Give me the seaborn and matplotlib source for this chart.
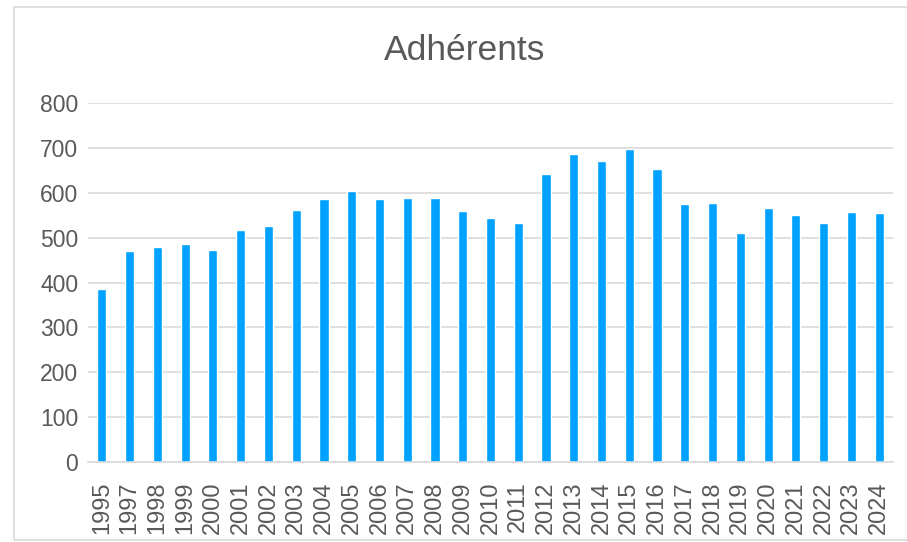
import matplotlib
matplotlib.use("Agg")
import matplotlib.pyplot as plt
import seaborn as sns
import pandas as pd
from matplotlib.patches import Rectangle

# Données
annees = ["1995", "1997", "1998", "1999", "2000", "2001", "2002", "2003", "2004",
          "2005", "2006", "2007", "2008", "2009", "2010", "2011", "2012", "2013",
          "2014", "2015", "2016", "2017", "2018", "2019", "2020", "2021", "2022",
          "2023", "2024"]
adherents = [385, 470, 479, 485, 472, 516, 526, 562, 586,
             604, 585, 588, 588, 559, 544, 532, 641, 687,
             670, 698, 654, 574, 577, 510, 565, 550, 532,
             557, 554]
y_ticks = [0, 100, 200, 300, 400, 500, 600, 700, 800]

df = pd.DataFrame({"annee": annees, "adherents": adherents})

sns.set_theme(style="white")
plt.rcParams["font.family"] = ["Liberation Sans", "DejaVu Sans"]

gris = "#595959"
fig = plt.figure(figsize=(9.07, 5.42), dpi=100)
ax = fig.add_axes([88 / 907, 1 - 462 / 542, (893 - 88) / 907, (462 - 103) / 542])

sns.barplot(data=df, x="annee", y="adherents", color="#00A2FF", width=0.33,
            saturation=1, ax=ax)

ax.set_ylim(0, 800)
ax.set_yticks(y_ticks)
ax.set_xlim(-0.5, len(annees) - 0.5)
ax.grid(axis="y", color="#d9d9d9", linewidth=1.2)
ax.set_axisbelow(True)
for s in ["top", "right", "left"]:
    ax.spines[s].set_visible(False)
ax.spines["bottom"].set_color("#d9d9d9")
ax.spines["bottom"].set_linewidth(1.2)

ax.tick_params(axis="x", labelrotation=90, labelsize=17, colors=gris, length=0, pad=14)
ax.tick_params(axis="y", labelsize=16.5, colors=gris, length=0, pad=7)
ax.set_xlabel("")
ax.set_ylabel("")

fig.text(465 / 907, 1 - 59.5 / 542, "Adhérents", ha="center", va="baseline",
         fontsize=25.5, color=gris)

# cadre du graphique
fig.patches.append(Rectangle((14 / 907, 2 / 542), 1.2, 1 - 9 / 542, transform=fig.transFigure,
                             fill=False, edgecolor="#d9d9d9", linewidth=1.2))

fig.savefig("out.png", dpi=100)
